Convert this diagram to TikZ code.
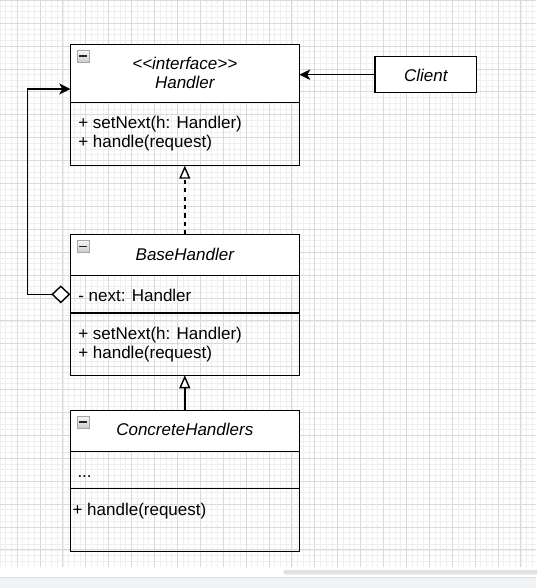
\documentclass[tikz,border=0pt]{standalone}
\usepackage{fontspec}
\setmainfont{Liberation Sans}
\usetikzlibrary{arrows.meta}

\definecolor{gridminor}{HTML}{EFEFEF}
\definecolor{gridmajor}{HTML}{DADADA}
\definecolor{panelbg}{HTML}{F1F2F4}
\definecolor{panelline}{HTML}{DDDEE0}
\definecolor{scrollbar}{HTML}{E2E2E2}

\begin{document}
\begin{tikzpicture}[x=1pt,y=-1pt,
  every node/.style={inner sep=0pt, outer sep=0pt},
  header/.style={rectangle, draw=black, line width=1.4pt, fill=white,
    minimum width=229pt, anchor=north west},
  compartment/.style={rectangle, draw=black, line width=1.4pt,
    minimum width=229pt, anchor=north west},
  member/.style={font=\fontsize{17}{20}\selectfont, anchor=base west},
  classname/.style={font=\fontsize{17}{20}\selectfont\itshape, anchor=base},
  collapse/.style={rectangle, draw=gray!70, line width=0.6pt,
    top color=gray!6, bottom color=gray!40, minimum size=12pt,
    path picture={\draw[line width=1.6pt, black!85]
      ([xshift=2.2pt]path picture bounding box.west) --
      ([xshift=-2.2pt]path picture bounding box.east);}},
  conn/.style={draw=black, line width=1.4pt},
  filledhead/.style={-{Stealth[length=11pt,width=10.5pt,inset=3pt]}},
  hollowtri/.style={-{Triangle[open,fill=white,length=13pt,width=11pt]}},
]

% canvas with grid
\useasboundingbox (0,0) rectangle (536,588);
\fill[white] (0,0) rectangle (536,588);
\begin{scope}
  \clip (0,0) rectangle (536,566.7);
  \foreach \i in {0,...,94}
    \draw[gridminor, line width=0.6pt] ({-0.175+5.725*\i},0) -- ++(0,567);
  \foreach \i in {0,...,99}
    \draw[gridminor, line width=0.6pt] (0,{0.2+5.725*\i}) -- ++(536,0);
  \foreach \i in {0,...,24}
    \draw[gridmajor, line width=0.7pt] ({-5.9+22.9*\i},0) -- ++(0,567);
  \foreach \i in {0,...,25}
    \draw[gridmajor, line width=0.7pt] (0,{0.2+22.9*\i}) -- ++(536,0);
\end{scope}

% bottom panel and scrollbar
\fill[panelbg] (0,577.3) rectangle (536,588);
\draw[panelline, line width=0.8pt] (0,577.3) -- (536,577.3);
\fill[scrollbar, rounded corners=2.3pt] (283.3,570) rectangle (540,574.7);

% Handler interface
\node[header, minimum height=58.4pt] (hhead) at (70.3,44.3) {};
\node[compartment, minimum height=63pt] (hbody) at (70.3,102.7) {};
\node[collapse] (hicon) at (83,56) {};
\node[classname] (hstereo) at (184.8,69.3) {<\kern0pt<interface>\kern0pt>};
\node[classname] (hname) at (184.8,89) {Handler};
\node[member] (hm1) at (78.3,128.3) {+ setNext(h: Handler)};
\node[member] (hm2) at (78.3,147.7) {+ handle(request)};

% BaseHandler
\node[header, minimum height=41.4pt] (bhead) at (70.3,234.3) {};
\node[compartment, minimum height=37.3pt] (bfield) at (70.3,275.7) {};
\node[compartment, minimum height=62.3pt] (bbody) at (70.3,313) {};
\node[collapse] (bicon) at (83,246.3) {};
\node[classname] (bname) at (184.8,260) {BaseHandler};
\node[member] (bf1) at (78.3,301) {- next: Handler};
\node[member] (bm1) at (78.3,339) {+ setNext(h: Handler)};
\node[member] (bm2) at (78.3,358.6) {+ handle(request)};

% ConcreteHandlers
\node[header, minimum height=41.4pt] (chead) at (70.3,410.3) {};
\node[compartment, minimum height=37pt] (cfield) at (70.3,451.7) {};
\node[compartment, minimum height=63pt] (cbody) at (70.3,488.7) {};
\node[collapse] (cicon) at (83,422.2) {};
\node[classname] (cname) at (184.8,435) {ConcreteHandlers};
\node[member] (cf1) at (77.5,477.3) {...};
\node[member] (cm1) at (72.6,515) {+ handle(request)};

% Client
\node[rectangle, draw=black, line width=1.4pt, fill=white,
  minimum width=101.7pt, minimum height=36pt, anchor=north west]
  (client) at (375,56.7) {};
\node[classname] (clientname) at (client.center |- 0,81.7) {Client};

% relations
\draw[conn, filledhead] (client.west) -- (client.west -| hhead.east);
\draw[conn, hollowtri, dash pattern=on 4.2pt off 4.2pt]
  (bhead.north) -- (hbody.south);
\draw[conn, hollowtri] (chead.north) -- (bbody.south);
\coordinate (loopcorner) at (27.3,89);
\draw[conn, {Diamond[open,fill=white,length=19pt,width=18pt]}-{Stealth[length=11pt,width=11pt,inset=3pt]}]
  (bfield.west) -| (loopcorner) -- (loopcorner -| hhead.west);

\end{tikzpicture}
\end{document}
